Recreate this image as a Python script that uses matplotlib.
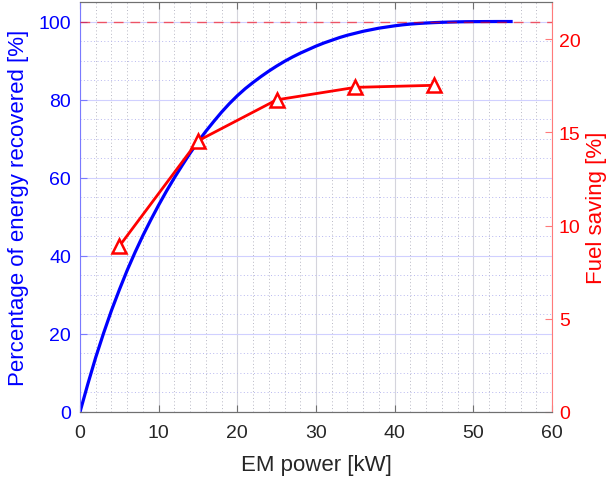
import matplotlib
matplotlib.use("Agg")
import matplotlib.pyplot as plt
from matplotlib.ticker import MultipleLocator

plt.rcParams['font.family'] = ['Liberation Sans', 'DejaVu Sans']

# ---- data ----
em_power = list(range(0, 56))
energy_recovered = [0, 7.2, 14.0, 20.2, 26.0, 31.3, 36.3, 40.9, 45.2, 49.2,
                    53.0, 56.6, 60.0, 63.2, 66.3, 69.2, 71.9, 74.4, 76.8, 79.0,
                    81.0, 82.8, 84.4, 85.9, 87.3, 88.6, 89.8, 90.9, 91.9, 92.8,
                    93.7, 94.5, 95.2, 95.9, 96.5, 97.0, 97.5, 97.9, 98.3, 98.6,
                    98.9, 99.15, 99.35, 99.5, 99.62, 99.72, 99.8, 99.86, 99.91,
                    99.95, 99.97, 99.98, 99.99, 100, 100, 100]
fs_power = [5, 15, 25, 35, 45]
fuel_saving = [8.9, 14.55, 16.75, 17.42, 17.53]
full_recovery = 100

x_ticks = [0, 10, 20, 30, 40, 50, 60]
left_ticks = [0, 20, 40, 60, 80, 100]
right_ticks = [0, 5, 10, 15, 20]

W, H = 613, 481
fig = plt.figure(figsize=(W / 100, H / 100), dpi=100)
ax = fig.add_axes([80 / W, 1 - 413 / H, (552 - 80) / W, (413 - 3) / H])
ax2 = ax.twinx()

blue = '#0000ff'
red = '#ff0000'
dark = '#262626'

ax.plot(em_power, energy_recovered, color=blue, lw=2.3, solid_capstyle='butt')
ax2.plot(fs_power, fuel_saving, color=red, lw=2.0, marker='^', ms=9.5,
         mfc='white', mec=red, mew=1.8)
ax2.plot([x_ticks[0], x_ticks[-1]], [full_recovery, full_recovery],
         transform=ax.transData, color=red, alpha=0.6, lw=1.0,
         linestyle=(0, (7, 5)))

ax.set_xlim(0, 60)
ax.set_ylim(0, 105)
ax2.set_ylim(0, 22)
ax.set_xticks(x_ticks)
ax.set_yticks(left_ticks)
ax2.set_yticks(right_ticks)
ax.xaxis.set_minor_locator(MultipleLocator(2))
ax.yaxis.set_minor_locator(MultipleLocator(5))

# grids
ax.grid(which='major', axis='x', color='#d4d4dc', lw=0.8)
ax.grid(which='major', axis='y', color='#d0d0ff', lw=0.8)
ax.grid(which='minor', axis='x', color='#b8b8c4', lw=0.7, linestyle=(0, (1, 2.5)))
ax.grid(which='minor', axis='y', color='#b8b8f0', lw=0.7, linestyle=(0, (1, 2.5)))
ax.set_axisbelow(True)

# spines
for a in (ax, ax2):
    a.spines['top'].set_color('#707070')
    a.spines['bottom'].set_color('#707070')
    a.spines['top'].set_linewidth(0.8)
    a.spines['bottom'].set_linewidth(0.8)
ax.spines['left'].set_color('#7a7aff')
ax2.spines['left'].set_visible(False)
ax.spines['right'].set_visible(False)
ax2.spines['right'].set_color('#ff7a7a')

ax.tick_params(axis='x', which='major', direction='in', length=5,
               color='#707070', labelcolor=dark, labelsize=14, pad=9, top=True)
ax.tick_params(axis='x', which='minor', length=0, top=False, bottom=False)
ax.tick_params(axis='y', which='major', direction='in', length=5,
               color='#7a7aff', labelcolor=blue, labelsize=14, pad=6.5)
ax.tick_params(axis='y', which='minor', length=0, left=False)
ax2.tick_params(axis='y', which='major', direction='in', length=5,
                color='#ff7a7a', labelcolor=red, labelsize=14, pad=5)

ax.set_xlabel('EM power [kW]', fontsize=16, color=dark, labelpad=9)
ax.set_ylabel('Percentage of energy recovered [%]', fontsize=16, color=blue,
              labelpad=7)
ax2.set_ylabel('Fuel saving [%]', fontsize=16, color=red, labelpad=4)

fig.savefig('out.png', dpi=100)
